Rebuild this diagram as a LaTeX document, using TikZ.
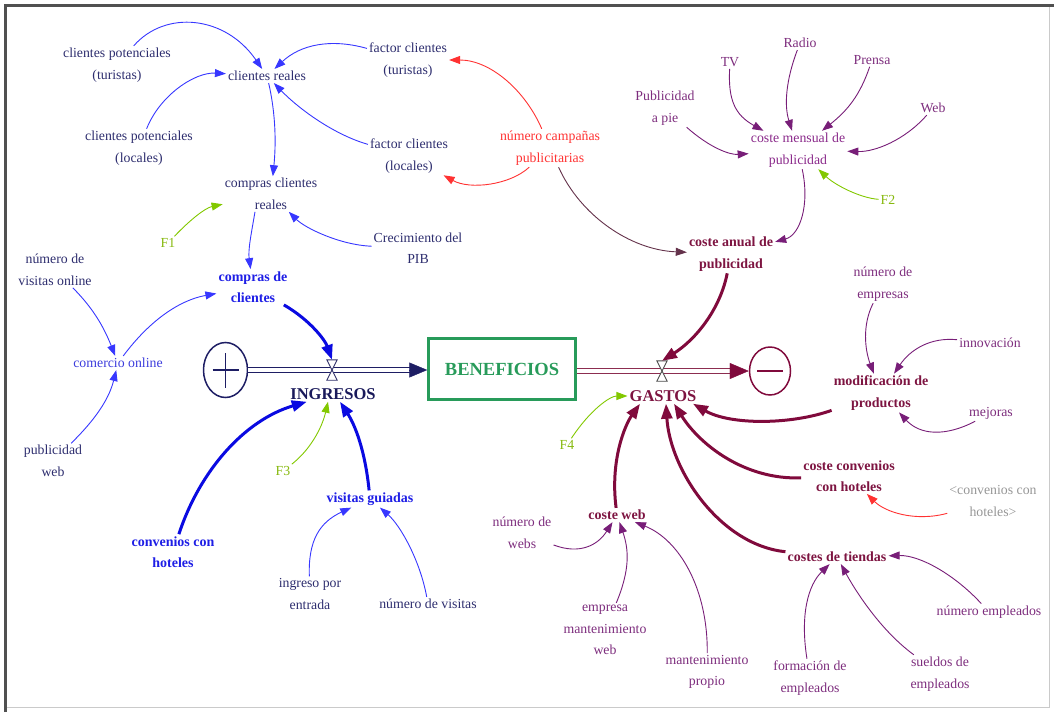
\documentclass[tikz,border=0pt]{standalone}
\usepackage{fontspec}
\setmainfont{Liberation Serif}
\usetikzlibrary{arrows.meta,shapes.geometric}
\definecolor{navyt}{RGB}{45,45,110}
\definecolor{bluemid}{RGB}{60,60,220}
\definecolor{bluet}{RGB}{30,30,230}
\definecolor{arblue}{RGB}{55,55,255}
\definecolor{thblue}{RGB}{10,10,225}
\definecolor{ingc}{RGB}{25,25,90}
\definecolor{navyc}{RGB}{30,30,100}
\definecolor{redt}{RGB}{255,50,50}
\definecolor{purpt}{RGB}{125,45,125}
\definecolor{purpa}{RGB}{120,30,120}
\definecolor{maroont}{RGB}{125,20,65}
\definecolor{thmaroon}{RGB}{128,10,60}
\definecolor{pipem}{RGB}{140,45,80}
\definecolor{greent}{RGB}{135,185,15}
\definecolor{greena}{RGB}{130,200,0}
\definecolor{bengreen}{RGB}{40,155,90}
\definecolor{greyt}{RGB}{150,150,150}
\definecolor{darkl}{RGB}{100,50,75}
\definecolor{framec}{RGB}{80,80,80}
\newcommand\fsr{\fontsize{13.8}{21.5}\selectfont}
\newcommand\fsb{\fontsize{14}{21.5}\selectfont\bfseries}
\begin{document}
\begin{tikzpicture}[x=1pt,y=-1pt,
  lbl/.style={font=\fsr, align=center, inner sep=2pt, text=navyt},
  plbl/.style={lbl, text=purpt},
  blbl/.style={font=\fsb, align=center, inner sep=2pt, text=bluet},
  mlbl/.style={font=\fsb, align=center, inner sep=2pt, text=maroont},
  flbl/.style={font=\fsr, inner sep=2pt, text=greent},
  ar/.style={draw=arblue, line width=0.9pt, -{Triangle[length=11pt,width=8pt]}},
  arr/.style={draw=redt, line width=0.9pt, -{Triangle[length=11pt,width=8pt]}},
  arp/.style={draw=purpa, line width=0.9pt, -{Triangle[length=11pt,width=8pt]}},
  arg/.style={draw=greena, line width=0.9pt, -{Triangle[length=11pt,width=8pt]}},
  thb/.style={draw=thblue, line width=3pt, -{Triangle[length=15pt,width=11pt]}},
  thm/.style={draw=thmaroon, line width=3pt, -{Triangle[length=15pt,width=11pt]}},
  valve/.style={minimum width=10pt, minimum height=20pt, inner sep=0pt},
]
\useasboundingbox (0,0) rectangle (1054,712);
% frame
\draw[greyt!50, line width=1pt] (1049,6) -- (1049,707) -- (6,707);
\draw[framec, line width=3pt] (5,712) -- (5,5) -- (1054,5);

% ---------- left / income side ----------
\node[lbl] (cpt) at (117,65) {clientes potenciales\\(turistas)};
\node[lbl] (cr) at (267,76) {clientes reales};
\node[lbl] (cpl) at (139,148) {clientes potenciales\\(locales)};
\node[lbl] (fct) at (408,60) {factor clientes\\(turistas)};
\node[lbl] (fcl) at (409,156) {factor clientes\\(locales)};
\node[lbl, text=redt] (ncp) at (550,148) {número campañas\\publicitarias};
\node[lbl] (ccr) at (271,194) {compras clientes\\reales};
\node[flbl] (F1) at (168,243) {F1};
\node[lbl] (cpib) at (418,248) {Crecimiento del\\PIB};
\node[lbl] (nvo) at (55,270) {número de\\visitas online};
\node[blbl] (cdc) at (253,287) {compras de\\clientes};
\node[lbl, text=bluemid] (co) at (118,363) {comercio online};
\node[lbl] (pw) at (53,461) {publicidad\\web};
\node[ellipse, draw=navyc, line width=1.5pt, minimum width=44pt, minimum height=55pt, inner sep=0pt] (plus) at (225.5,370) {};
\draw[navyc, line width=1.5pt] ([xshift=-13pt]plus.center) -- ([xshift=13pt]plus.center)
  ([yshift=-17.5pt]plus.center) -- ([yshift=17.5pt]plus.center);
\node[draw=bengreen, line width=2.5pt, minimum width=147pt, minimum height=61pt, text=bengreen,
  font=\fontsize{18.5}{20}\selectfont\bfseries] (ben) at (502,369) {BENEFICIOS};
\node[valve] (v1) at (332,370) {};
\node[font=\fontsize{16.5}{18}\selectfont\bfseries, text=ingc, inner sep=2pt] (ing) at (333,394) {INGRESOS};
\node[flbl] (F3) at (283,471) {F3};
\node[blbl] (vg) at (370,499) {visitas guiadas};
\node[blbl] (cch) at (173,552) {convenios con\\hoteles};
\node[lbl] (ipe) at (310,594) {ingreso por\\entrada};
\node[lbl] (ndv) at (428,604) {número de visitas};

% income pipe
\draw[navyc, line width=1.2pt, double=white, double distance=3.5pt, shorten >=17pt]
  (plus.east) -- (plus.east -| ben.west);
\draw[navyc, line width=0.4pt, -{Triangle[length=18pt,width=15pt]}]
  ([xshift=-18pt]plus.east -| ben.west) -- (plus.east -| ben.west);
\filldraw[fill=white, draw=navyc!80!gray, line width=0.9pt]
  (v1.north west) -- (v1.north east) -- (v1.south west) -- (v1.south east) -- cycle;

% ---------- right / expense side ----------
\node[plbl] (tv) at (730,62) {TV};
\node[plbl] (radio) at (800,43) {Radio};
\node[plbl] (prensa) at (872,60) {Prensa};
\node[plbl] (ppie) at (665,108) {Publicidad\\a pie};
\node[plbl] (web) at (933,108) {Web};
\node[lbl, text=purpt!90!magenta] (cmp) at (798,150) {coste mensual de\\publicidad};
\node[flbl] (F2) at (888,200) {F2};
\node[mlbl] (cap) at (731,254) {coste anual de\\publicidad};
\node[plbl] (nde) at (883,284) {número de\\empresas};
\node[plbl] (inn) at (990,343) {innovación};
\node[mlbl] (mod) at (881,393) {modificación de\\productos};
\node[plbl] (mej) at (991,413) {mejoras};
\node[ellipse, draw=thmaroon, line width=1.5pt, minimum width=41pt, minimum height=48pt, inner sep=0pt] (minus) at (770,371) {};
\draw[thmaroon, line width=2.5pt] ([xshift=-13pt]minus.center) -- ([xshift=13pt]minus.center);
\node[valve] (v2) at (662,371) {};
\node[font=\fontsize{16.5}{18}\selectfont\bfseries, text=maroont, inner sep=2pt] (gas) at (663,396) {GASTOS};
\node[flbl] (F4) at (567,445) {F4};
\node[mlbl] (ccc) at (849,476) {coste convenios\\con hoteles};
\node[lbl, text=greyt] (cvh) at (993,501) {<convenios con\\hoteles>};
\node[plbl] (nw) at (522,533) {número de\\webs};
\node[mlbl] (cw) at (617,515) {coste web};
\node[mlbl] (ct) at (837,557) {costes de tiendas};
\node[plbl] (emw) at (605,630) {empresa\\mantenimiento\\web};
\node[plbl] (mp) at (707,672) {mantenimiento\\propio};
\node[plbl] (ne) at (989,612) {número empleados};
\node[plbl] (fe) at (810,678) {formación de\\empleados};
\node[plbl] (se) at (940,674) {sueldos de\\empleados};

% expense pipe
\draw[pipem, line width=1.2pt, double=white, double distance=3.5pt, shorten >=19pt]
  (ben.east |- minus.west) -- (minus.west);
\draw[thmaroon, line width=0.4pt, -{Triangle[length=19pt,width=16pt]}]
  ([xshift=-19pt]minus.west) -- (minus.west);
\filldraw[fill=white, draw=black!70, line width=0.9pt]
  (v2.north west) -- (v2.north east) -- (v2.south west) -- (v2.south east) -- cycle;

% ---------- connectors: income side ----------
\draw[ar] (cpt) .. controls (165,10) and (225,15) .. (cr);
\draw[ar] (cpl) .. controls (160,95) and (195,72) .. (cr);
\draw[ar] (fct) .. controls (330,38) and (300,45) .. (cr);
\draw[ar] (fcl) .. controls (335,135) and (300,110) .. (cr);
\draw[ar] (cr) .. controls (276,115) and (276,145) .. (ccr);
\draw[arg] (F1) .. controls (190,220) and (205,208) .. (ccr);
\draw[ar] (cpib) .. controls (340,245) and (305,228) .. (ccr);
\draw[ar] ([xshift=-16pt]ccr.south) .. controls (251,235) and (248,250) .. (cdc);
\draw[ar] (nvo) .. controls (95,310) and (105,330) .. (co);
\draw[ar] (pw) .. controls (100,415) and (110,395) .. (co);
\draw[ar] (co) .. controls (150,320) and (180,300) .. (cdc);
\draw[thb] (cdc) .. controls (310,320) and (325,340) .. (v1.north);
\draw[thb] (cch) .. controls (200,470) and (245,420) .. (ing);
\draw[thb] (vg) .. controls (365,450) and (355,425) .. ([xshift=7pt]ing.south);
\draw[arg] (F3) .. controls (310,450) and (322,428) .. ([xshift=-5pt]ing.south);
\draw[ar] (ipe) .. controls (308,540) and (320,522) .. (vg);
\draw[ar] (ndv) .. controls (420,560) and (400,525) .. (vg);
\draw[arr] (ncp) .. controls (525,90) and (490,60) .. (fct);
\draw[arr] (ncp) .. controls (510,185) and (470,190) .. (fcl);

% ---------- connectors: expense side ----------
\draw[draw=darkl, line width=0.9pt, -{Triangle[length=11pt,width=8pt]}] (ncp) .. controls (580,215) and (630,250) .. (cap);
\draw[arp] (tv) .. controls (728,100) and (735,115) .. (cmp);
\draw[arp] (radio) .. controls (786,80) and (784,105) .. (cmp);
\draw[arp] (prensa) .. controls (860,95) and (848,110) .. (cmp);
\draw[arp] (ppie) .. controls (710,148) and (730,155) .. (cmp);
\draw[arp] (web) .. controls (905,140) and (875,152) .. (cmp);
\draw[arg] (F2) .. controls (860,198) and (835,185) .. (cmp);
\draw[arp] (cmp) .. controls (810,205) and (800,235) .. (cap);
\draw[thm] (cap) .. controls (720,310) and (695,340) .. (v2.north);
\draw[arp] (nde) .. controls (862,325) and (865,350) .. (mod);
\draw[arp] (inn) .. controls (930,337) and (910,350) .. (mod);
\draw[arp] (mej) .. controls (945,437) and (920,435) .. (mod);
\draw[thm] (mod) .. controls (790,425) and (730,425) .. ([xshift=30pt]gas.south);
\draw[thm] (ccc) .. controls (745,480) and (700,445) .. ([xshift=11pt]gas.south);
\draw[arr] (cvh) .. controls (915,522) and (885,512) .. (ccc);
\draw[thm] (ct) .. controls (720,545) and (670,470) .. ([xshift=3pt]gas.south);
\draw[thm] (cw) .. controls (610,460) and (625,425) .. ([xshift=-23pt]gas.south);
\draw[arg] (F4) .. controls (590,410) and (610,396) .. (gas);
\draw[arp] (nw) .. controls (580,555) and (598,545) .. (cw);
\draw[arp] (emw) .. controls (630,570) and (629,550) .. (cw);
\draw[arp] (mp) .. controls (708,590) and (680,540) .. (cw);
\draw[arp] (fe) .. controls (800,615) and (808,585) .. (ct);
\draw[arp] (se) .. controls (880,630) and (855,590) .. (ct);
\draw[arp] (ne) .. controls (955,575) and (920,555) .. (ct);
\end{tikzpicture}
\end{document}
